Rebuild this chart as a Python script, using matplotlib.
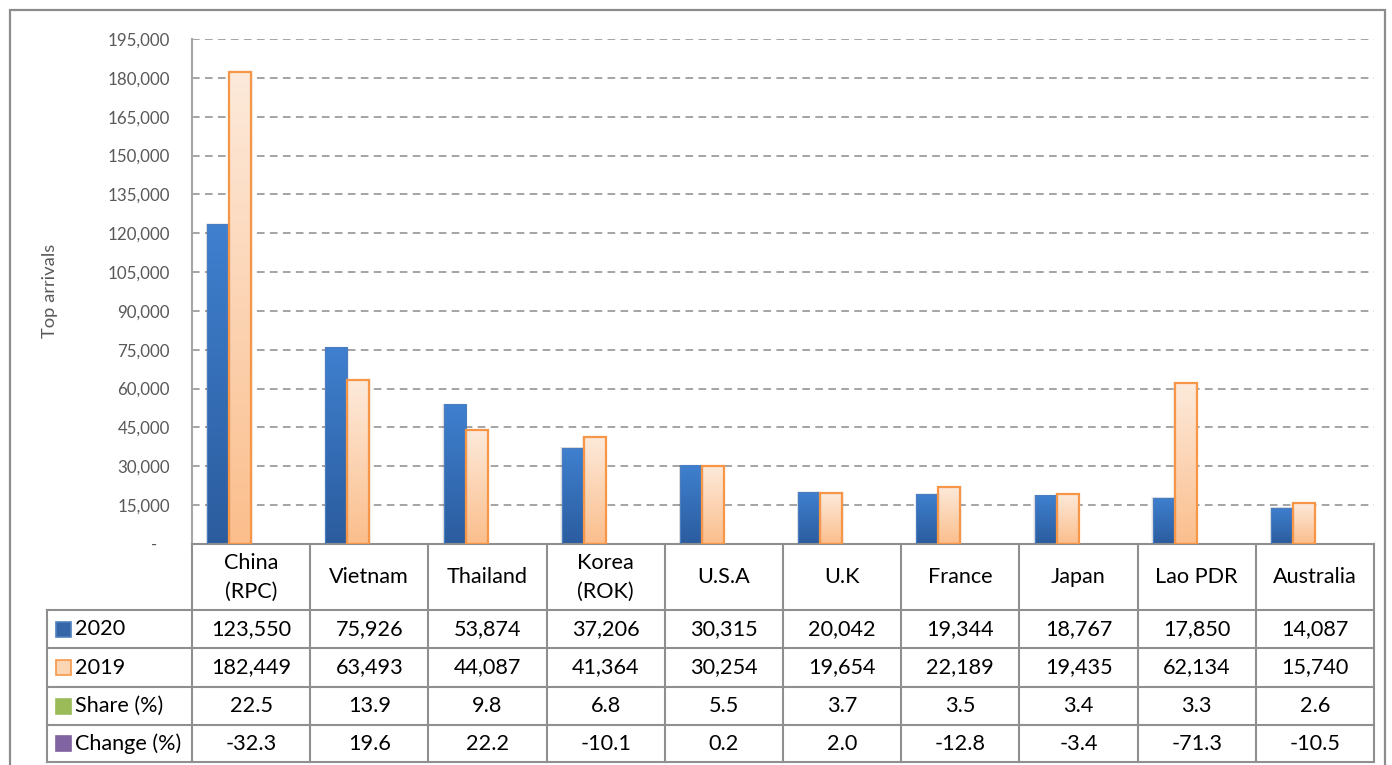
import numpy as np
import matplotlib
matplotlib.use('Agg')
import matplotlib.pyplot as plt
from matplotlib.colors import LinearSegmentedColormap
from matplotlib.patches import Rectangle
from matplotlib.lines import Line2D
import matplotlib.transforms as mtransforms

countries = ["China\n(RPC)", "Vietnam", "Thailand", "Korea\n(ROK)", "U.S.A", "U.K",
             "France", "Japan", "Lao PDR", "Australia"]
arrivals_2020 = [123550, 75926, 53874, 37206, 30315, 20042, 19344, 18767, 17850, 14087]
arrivals_2019 = [182449, 63493, 44087, 41364, 30254, 19654, 22189, 19435, 62134, 15740]
share_pct = [22.5, 13.9, 9.8, 6.8, 5.5, 3.7, 3.5, 3.4, 3.3, 2.6]
change_pct = [-32.3, 19.6, 22.2, -10.1, 0.2, 2.0, -12.8, -3.4, -71.3, -10.5]
row_labels = ["2020", "2019", "Share (%)", "Change (%)"]
y_ticks = list(range(0, 195001, 15000))
y_label = "Top arrivals"

plt.rcParams['font.family'] = ['Lato', 'DejaVu Sans']

W, H = 1392, 765
fig = plt.figure(figsize=(W / 100, H / 100), dpi=100)


def fx(px):
    return px / W


def fy(py):
    return 1 - py / H


GRID = '#8C8C8C'
TABLE = '#8F8F8F'
TXT_GRAY = '#595959'

ax = fig.add_axes([fx(192), fy(544), fx(1374) - fx(192), fy(39) - fy(544)])
n = len(countries)
x = np.arange(n)
w = 0.186

bars20 = ax.bar(x - 1.5 * w, arrivals_2020, width=w, facecolor='none',
                edgecolor='#4A7EC0', linewidth=0.8, zorder=3)
bars19 = ax.bar(x - 0.5 * w, arrivals_2019, width=w, facecolor='none',
                edgecolor='#F79646', linewidth=1.6, zorder=3)


def grad_fill(bar, c_top, c_bot):
    x0 = bar.get_x()
    x1 = x0 + bar.get_width()
    h = bar.get_height()
    cmap = LinearSegmentedColormap.from_list('g', [c_bot, c_top])
    g = np.linspace(0, 1, 256).reshape(-1, 1)
    im = ax.imshow(g, cmap=cmap, extent=[x0, x1, 0, h], origin='lower',
                   aspect='auto', zorder=2.5, interpolation='bilinear')
    im.set_clip_path(bar)
    # soft shadow
    for k, a in [(0.012, 0.05), (0.006, 0.07)]:
        ax.add_patch(Rectangle((x0 - k, 0), (x1 - x0) + 2 * k, h + k * 19500,
                               facecolor='black', alpha=a, lw=0, zorder=2.2))


for b in bars20:
    grad_fill(b, '#3F80CF', '#2B5C9E')
for b in bars19:
    grad_fill(b, '#FDEADB', '#FBBE8C')

ax.set_xlim(-0.5, n - 0.5)
ax.set_ylim(0, 195000)
ax.set_yticks(y_ticks)
ax.set_yticklabels(['-   ' if v == 0 else f'{v:,}' for v in y_ticks],
                   color=TXT_GRAY, fontsize=12.2)
ax.tick_params(axis='y', length=0, pad=16)
ax.set_xticks([])
ax.set_axisbelow(True)
ax.yaxis.grid(True, linestyle=(0, (5, 3.5)), color=GRID, linewidth=1.1, zorder=0)
for s in ['top', 'right']:
    ax.spines[s].set_visible(False)
ax.spines['left'].set_color('#A6A6A6')
ax.spines['left'].set_linewidth(1.5)
ax.spines['bottom'].set_color(TABLE)
ax.spines['bottom'].set_linewidth(1.5)

fig.text(fx(50), fy(291), y_label, rotation=90, ha='center', va='center',
         fontsize=13.2, color=TXT_GRAY)

# ---- data table ----
trans = mtransforms.blended_transform_factory(ax.transData, fig.transFigure)
header_top, header_bot = 544, 610
row_edges = [610, 648, 687, 725, 762]
tab_left, tab_right = 47, 1374
FS = 15.6

for i in range(n + 1):
    fig.add_artist(Line2D([i - 0.5, i - 0.5], [fy(header_top), fy(row_edges[-1])],
                          transform=trans, color=TABLE, lw=1.5))
fig.add_artist(Line2D([fx(tab_left), fx(tab_left)], [fy(row_edges[0]), fy(row_edges[-1])],
                      transform=fig.transFigure, color=TABLE, lw=1.5))
for ye in row_edges:
    fig.add_artist(Line2D([fx(tab_left), fx(tab_right)], [fy(ye), fy(ye)],
                          transform=fig.transFigure, color=TABLE, lw=1.5))

for i, c in enumerate(countries):
    fig.text(i, fy((header_top + header_bot) / 2), c, transform=trans, ha='center',
             va='center', fontsize=FS, color='black', linespacing=1.55)

rows = [
    [f'{v:,}' for v in arrivals_2020],
    [f'{v:,}' for v in arrivals_2019],
    [f'{v:.1f}' for v in share_pct],
    [f'{v:.1f}' for v in change_pct],
]
key_face = ['#3566A8', '#FCD5B4', '#9BBB59', '#8064A2']
key_edge = ['#4F81BD', '#F79646', '#9BBB59', '#8064A2']
for r, vals in enumerate(rows):
    yc = (row_edges[r] + row_edges[r + 1]) / 2
    for i, v in enumerate(vals):
        fig.text(i, fy(yc), v, transform=trans, ha='center', va='center',
                 fontsize=FS, color='black')
    fig.add_artist(Rectangle((fx(56), fy(yc + 7.5)), fx(15), 15 / H,
                             transform=fig.transFigure, facecolor=key_face[r],
                             edgecolor=key_edge[r], lw=1.2))
    fig.text(fx(75), fy(yc), row_labels[r], ha='left', va='center',
             fontsize=FS, color='black')

# outer chart border
fig.add_artist(Rectangle((fx(10), fy(780)), fx(1385) - fx(10), fy(10) - fy(780),
                         transform=fig.transFigure, fill=False, edgecolor='#8C8C8C',
                         lw=1.6, clip_on=False))

fig.savefig('out.png', dpi=100)
